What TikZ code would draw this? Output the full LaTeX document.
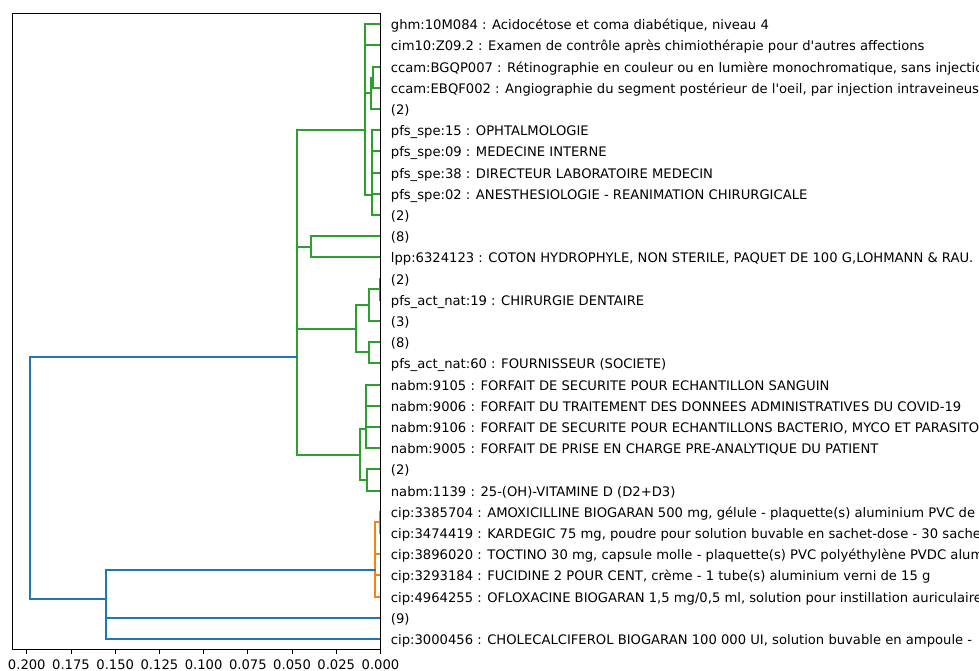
\documentclass[tikz,border=0pt]{standalone}
\usepackage{fontspec}
\setmainfont{DejaVu Sans}
\definecolor{cg}{HTML}{2CA02C}
\definecolor{co}{HTML}{FF7F0E}
\definecolor{cb}{HTML}{1F77B4}
\newcommand\ulink[6]{\draw[link,#1] (#2,#3) -- (#4,#3) -- (#4,#5) -- (#6,#5);}
\begin{document}
\begin{tikzpicture}[x=1pt,y=-1pt,
  link/.style={line width=2pt, line cap=rect, line join=miter},
  leaf/.style={anchor=base west, inner sep=0pt, font=\fontsize{13.15}{15}\selectfont},
  ticklab/.style={anchor=base, inner sep=0pt, font=\fontsize{13.15}{15}\selectfont}]
\useasboundingbox (0,0) rectangle (979,670);
\def\Lx{380}
% green cluster
\ulink{cg}{\Lx}{24}{365}{45}{\Lx}
\ulink{cg}{\Lx}{67}{373}{88}{\Lx}
\ulink{cg}{373}{78}{371}{109}{\Lx}
\ulink{cg}{365}{35}{365}{93}{371}
\ulink{cg}{\Lx}{130}{372}{151}{\Lx}
\ulink{cg}{372}{141}{372}{173}{\Lx}
\ulink{cg}{372}{157}{372}{194}{\Lx}
\ulink{cg}{372}{175}{372}{215}{\Lx}
\ulink{cg}{365}{64}{365}{195}{372}
\ulink{cg}{\Lx}{236}{311}{257}{\Lx}
\ulink{cg}{\Lx}{279}{380}{300}{\Lx}
\ulink{cg}{380}{289}{369}{321}{\Lx}
\ulink{cg}{\Lx}{342}{369}{363}{\Lx}
\ulink{cg}{369}{305}{356}{352}{369}
\ulink{cg}{\Lx}{385}{366}{406}{\Lx}
\ulink{cg}{366}{395}{366}{427}{\Lx}
\ulink{cg}{366}{411}{366}{448}{\Lx}
\ulink{cg}{\Lx}{469}{367}{491}{\Lx}
\ulink{cg}{366}{429}{360}{480}{367}
\ulink{cg}{365}{130}{297}{247}{311}
\ulink{cg}{297}{188}{297}{329}{356}
\ulink{cg}{297}{258}{297}{455}{360}
% orange cluster
\ulink{co}{\Lx}{512}{380}{533}{\Lx}
\ulink{co}{\Lx}{554}{375}{575}{\Lx}
\ulink{co}{380}{522}{375}{565}{375}
\ulink{co}{375}{543}{375}{597}{\Lx}
% blue links
\ulink{cb}{\Lx}{618}{106}{639}{\Lx}
\ulink{cb}{375}{570}{106}{628}{106}
\ulink{cb}{297}{357}{30}{599}{106}
% frame
\draw[line width=1pt, line join=miter] (12.5,13.5) rectangle (380.5,649.5);
% ticks
\foreach \i/\lab in {0/0.200,1/0.175,2/0.150,3/0.125,4/0.100,5/0.075,6/0.050,7/0.025,8/0.000}{
  \draw[line width=1pt] ({26.8+44.21*\i},650) -- ({26.8+44.21*\i},654.3);
  \node[ticklab] (t\i) at ({26.8+44.21*\i},669) {\lab};
}
% leaf labels
\node[leaf] (l1) at (390.7,29) {ghm:10M084 : Acidocétose et coma diabétique, niveau 4};
\node[leaf] (l2) at (390.7,50) {cim10:Z09.2 : Examen de contrôle après chimiothérapie pour d\textquotesingle autres affections};
\node[leaf] (l3) at (390.7,72) {ccam:BGQP007 : Rétinographie en couleur ou en lumière monochromatique, sans injection};
\node[leaf] (l4) at (390.7,93) {ccam:EBQF002 : Angiographie du segment postérieur de l\textquotesingle oeil, par injection intraveineuse};
\node[leaf] (l5) at (390.7,114) {(2)};
\node[leaf] (l6) at (390.7,135) {pfs\_spe:15 : OPHTALMOLOGIE};
\node[leaf] (l7) at (390.7,156) {pfs\_spe:09 : MEDECINE INTERNE};
\node[leaf] (l8) at (390.7,178) {pfs\_spe:38 : DIRECTEUR LABORATOIRE MEDECIN};
\node[leaf] (l9) at (390.7,199) {pfs\_spe:02 : ANESTHESIOLOGIE - REANIMATION CHIRURGICALE};
\node[leaf] (l10) at (390.7,220) {(2)};
\node[leaf] (l11) at (390.7,241) {(8)};
\node[leaf] (l12) at (390.7,262) {lpp:6324123 : COTON HYDROPHYLE, NON STERILE, PAQUET DE 100 G,LOHMANN \& RAU.};
\node[leaf] (l13) at (390.7,284) {(2)};
\node[leaf] (l14) at (390.7,305) {pfs\_act\_nat:19 : CHIRURGIE DENTAIRE};
\node[leaf] (l15) at (390.7,326) {(3)};
\node[leaf] (l16) at (390.7,347) {(8)};
\node[leaf] (l17) at (390.7,368) {pfs\_act\_nat:60 : FOURNISSEUR (SOCIETE)};
\node[leaf] (l18) at (390.7,390) {nabm:9105 : FORFAIT DE SECURITE POUR ECHANTILLON SANGUIN};
\node[leaf] (l19) at (390.7,411) {nabm:9006 : FORFAIT DU TRAITEMENT DES DONNEES ADMINISTRATIVES DU COVID-19};
\node[leaf] (l20) at (390.7,432) {nabm:9106 : FORFAIT DE SECURITE POUR ECHANTILLONS BACTERIO, MYCO ET PARASITO};
\node[leaf] (l21) at (390.7,453) {nabm:9005 : FORFAIT DE PRISE EN CHARGE PRE-ANALYTIQUE DU PATIENT};
\node[leaf] (l22) at (390.7,474) {(2)};
\node[leaf] (l23) at (390.7,496) {nabm:1139 : 25-(OH)-VITAMINE D (D2+D3)};
\node[leaf] (l24) at (390.7,517) {cip:3385704 : AMOXICILLINE BIOGARAN 500 mg, gélule - plaquette(s) aluminium PVC de};
\node[leaf] (l25) at (390.7,538) {cip:3474419 : KARDEGIC 75 mg, poudre pour solution buvable en sachet-dose - 30 sachets};
\node[leaf] (l26) at (390.7,559) {cip:3896020 : TOCTINO 30 mg, capsule molle - plaquette(s) PVC polyéthylène PVDC aluminium};
\node[leaf] (l27) at (390.7,580) {cip:3293184 : FUCIDINE 2 POUR CENT, crème - 1 tube(s) aluminium verni de 15 g};
\node[leaf] (l28) at (390.7,602) {cip:4964255 : OFLOXACINE BIOGARAN 1,5 mg/0,5 ml, solution pour instillation auriculaire};
\node[leaf] (l29) at (390.7,623) {(9)};
\node[leaf] (l30) at (390.7,644) {cip:3000456 : CHOLECALCIFEROL BIOGARAN 100 000 UI, solution buvable en ampoule -};
\end{tikzpicture}
\end{document}
